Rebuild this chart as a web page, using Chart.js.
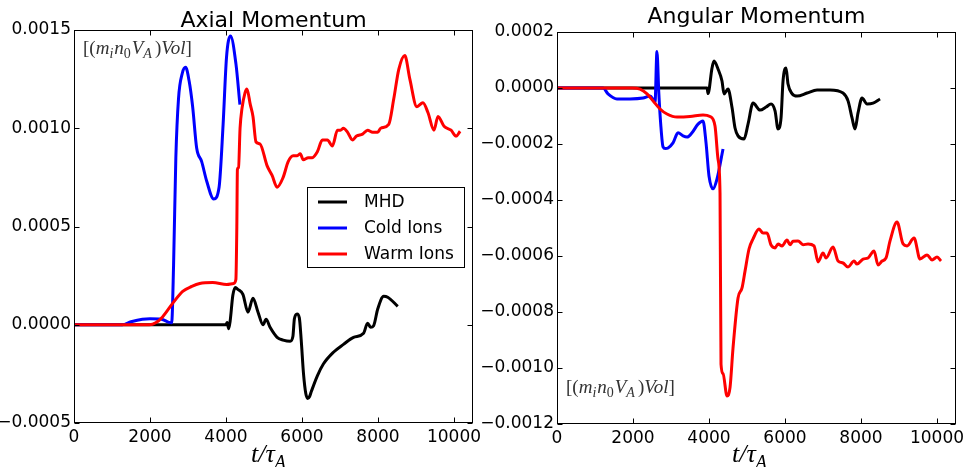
<!DOCTYPE html>
<html>
  <head>
    <meta charset="utf-8">
    <title>Axial and Angular Momentum</title>
    <script src="https://cdn.jsdelivr.net/npm/chart.js"></script>
    <style>
      html, body {
        margin: 0;
        padding: 0;
        background: #fff;
      }
      #wrap {
        position: relative;
        width: 967px;
        height: 467px;
        overflow: hidden;
      }
      canvas {
        position: absolute;
        top: 0;
      }
      #axial { left: 0; }
      #angular { left: 480px; }
    </style>
  </head>
  <body>
    <div id="wrap">
      <canvas id="axial" width="480" height="467"></canvas>
      <canvas id="angular" width="487" height="467"></canvas>
    </div>

    <script>
      const seriesLabels = ["MHD", "Cold Ions", "Warm Ions"];
      const seriesColors = ["#000000", "#0000ff", "#ff0000"];

      const timeTicks = [0, 2000, 4000, 6000, 8000, 10000];
      const axialTicks = [-0.0005, 0, 0.0005, 0.001, 0.0015];
      const angularTicks = [-0.0012, -0.001, -0.0008, -0.0006, -0.0004, -0.0002, 0, 0.0002];

      // --- axial momentum ---
      const axialMhdTime = [0, 4000, 4030, 4070, 4110, 4180, 4250, 4313, 4445, 4578, 4710, 4843, 4975, 5054, 5160, 5345, 5504, 5689, 5760, 5800, 5870, 5930, 5980, 6040, 6100, 6150, 6200, 6245, 6404, 6562, 6827, 7091, 7356, 7620, 7726, 7806, 7885, 7991, 8150, 8256, 8520];
      const axialMhd = [0, 0, 0.000012, -0.00002, 0.00002, 0.00015, 0.00019, 0.00018, 0.000155, 0.000064, 0.000135, 0.000064, 0, 0.000028, -0.000013, -0.000064, -0.000078, -0.000084, -0.00006, 0.00003, 0.000055, 0.000035, -0.00008, -0.00025, -0.00035, -0.000375, -0.000365, -0.00034, -0.00026, -0.0002, -0.00014, -0.0001, -0.000064, -0.000043, 0.000008, -0.000013, -0.000005, 0.000079, 0.000145, 0.00014, 0.000094];

      const axialColdTime = [0, 1270, 1500, 1800, 2000, 2300, 2500, 2570, 2620, 2680, 2750, 2850, 2937, 3030, 3122, 3228, 3360, 3493, 3678, 3818, 3924, 4013, 4119, 4260, 4366];
      const axialCold = [0, 0, 0.000015, 0.000028, 0.00003, 0.000028, 0.000012, 0.00001, 0.0003, 0.00085, 0.00115, 0.00128, 0.00131, 0.00124, 0.00111, 0.0009, 0.00083, 0.00073, 0.00064, 0.0007, 0.00102, 0.00136, 0.00147, 0.00133, 0.00112];

      const axialWarmTime = [0, 1985, 2150, 2330, 2600, 2860, 3100, 3308, 3650, 4020, 4200, 4260, 4285, 4300, 4330, 4370, 4420, 4500, 4551, 4640, 4710, 4790, 4895, 5080, 5213, 5345, 5504, 5636, 5768, 5874, 5954, 6033, 6165, 6271, 6404, 6536, 6668, 6800, 6933, 7012, 7091, 7197, 7330, 7435, 7594, 7726, 7859, 7991, 8071, 8283, 8415, 8547, 8705, 8838, 9023, 9182, 9314, 9473, 9579, 9738, 9923, 10055, 10161];
      const axialWarm = [0, 0, 0.00001, 0.00004, 0.00011, 0.00017, 0.000195, 0.00021, 0.000215, 0.000205, 0.00021, 0.00023, 0.0005, 0.00079, 0.0008, 0.001, 0.0011, 0.00118, 0.0012, 0.00112, 0.00106, 0.00093, 0.00092, 0.00081, 0.00076, 0.0007, 0.00075, 0.00083, 0.00086, 0.00086, 0.00087, 0.00084, 0.00085, 0.00085, 0.00088, 0.00094, 0.00094, 0.00091, 0.00099, 0.00099, 0.001, 0.00098, 0.00094, 0.00096, 0.00097, 0.00099, 0.00098, 0.00098, 0.001, 0.00102, 0.00115, 0.0013, 0.00137, 0.00125, 0.00111, 0.00113, 0.00108, 0.00099, 0.00106, 0.00101, 0.00099, 0.00096, 0.000985];

      // --- angular momentum ---
      const angularMhdTime = [0, 3950, 3974, 4079, 4132, 4237, 4342, 4395, 4500, 4606, 4685, 4764, 4922, 5027, 5159, 5343, 5501, 5633, 5738, 5817, 5896, 5948, 6027, 6080, 6185, 6317, 6580, 6843, 7185, 7527, 7659, 7764, 7843, 7922, 8027, 8159, 8317, 8501];
      const angularMhd = [0, 0, -0.00002, 0.000071, 0.000096, 0.000068, 0.000025, -0.000021, -0.000004, -0.00007, -0.000143, -0.000171, -0.000182, -0.000129, -0.000054, -0.000079, -0.000068, -0.000057, -0.000082, -0.000146, -0.000107, 0.000025, 0.000071, 0.000014, -0.00002, -0.000029, -0.000018, -0.000007, -0.000007, -0.000018, -0.000046, -0.000107, -0.000146, -0.000089, -0.000036, -0.000057, -0.000054, -0.000039];

      const angularColdTime = [0, 1211, 1342, 1579, 1921, 2264, 2448, 2553, 2580, 2630, 2680, 2730, 2790, 2850, 2922, 3053, 3185, 3316, 3422, 3553, 3711, 3843, 3922, 4000, 4106, 4211, 4369];
      const angularCold = [0, 0, -0.000021, -0.000039, -0.000039, -0.000036, -0.000029, -0.000046, -0.00005, 0.00013, -0.00002, -0.00013, -0.00021, -0.000216, -0.000214, -0.000196, -0.00016, -0.000171, -0.000175, -0.00016, -0.000129, -0.000118, -0.000196, -0.000314, -0.00036, -0.000325, -0.000218];

      const angularWarmTime = [0, 1974, 2185, 2369, 2527, 2711, 2895, 3158, 3500, 3843, 4027, 4158, 4237, 4290, 4316, 4369, 4474, 4553, 4632, 4764, 4869, 4948, 5053, 5159, 5317, 5422, 5527, 5633, 5738, 5817, 5922, 6053, 6132, 6211, 6343, 6475, 6606, 6764, 6869, 7001, 7080, 7264, 7396, 7527, 7659, 7817, 7896, 8054, 8185, 8343, 8449, 8554, 8659, 8764, 8949, 9107, 9212, 9396, 9554, 9738, 9870, 10001, 10106];
      const angularWarm = [0, 0, -0.000004, -0.000021, -0.000046, -0.000075, -0.000093, -0.000104, -0.000102, -0.000096, -0.000102, -0.000136, -0.000254, -0.000375, -0.000986, -0.00102, -0.0011, -0.00107, -0.000929, -0.00075, -0.000714, -0.000654, -0.000575, -0.000539, -0.000504, -0.000518, -0.000518, -0.000561, -0.000571, -0.000557, -0.000564, -0.000543, -0.00056, -0.000547, -0.000546, -0.00056, -0.000557, -0.000564, -0.000621, -0.000589, -0.000607, -0.000568, -0.000618, -0.000625, -0.000639, -0.000618, -0.000629, -0.000611, -0.000607, -0.000582, -0.000632, -0.000618, -0.000607, -0.000546, -0.000479, -0.000557, -0.000564, -0.000536, -0.000611, -0.000596, -0.000614, -0.000604, -0.000618];

      function points(times, values) {
        return times.map((t, i) => ({ x: t, y: values[i] }));
      }

      function tickText(v) {
        if (Math.abs(v) < 1e-12) v = 0;
        return v.toFixed(4).replace("-", "\u2212");
      }

      // draws a run of text pieces (for sub/superscripts) from x along a baseline
      function drawRich(ctx, x, y, pieces, color) {
        ctx.save();
        ctx.fillStyle = color;
        ctx.textAlign = "left";
        ctx.textBaseline = "alphabetic";
        pieces.forEach((p) => {
          ctx.font = p.font;
          ctx.fillText(p.text, x, y + (p.dy || 0));
          x += ctx.measureText(p.text).width + (p.gap || 0);
        });
        ctx.restore();
      }

      const serif = '"Liberation Serif", "DejaVu Serif", serif';
      const unitPieces = [
        { text: "[(", font: "19px " + serif },
        { text: "m", font: "italic 19px " + serif },
        { text: "i", font: "italic 14px " + serif, dy: 4, gap: 1 },
        { text: "n", font: "italic 19px " + serif },
        { text: "0", font: "14px " + serif, dy: 4, gap: 1 },
        { text: "V", font: "italic 19px " + serif },
        { text: "A", font: "italic 14px " + serif, dy: 4, gap: 3 },
        { text: ")", font: "19px " + serif },
        { text: "Vol", font: "italic 19px " + serif },
        { text: "]", font: "19px " + serif },
      ];
      const timePieces = [
        { text: "t/\u03c4", font: "italic 26px " + serif },
        { text: "A", font: "italic 18px " + serif, dy: 6 },
      ];

      // box round the plot with inward tick marks on all four sides
      const framePlugin = {
        id: "frame",
        afterDatasetsDraw(chart) {
          const { ctx, chartArea: a, scales } = chart;
          const L = Math.round(a.left) + 0.5, R = Math.round(a.right) - 0.5;
          const T = Math.round(a.top) + 0.5, B = Math.round(a.bottom) - 0.5;
          ctx.save();
          ctx.strokeStyle = "#000";
          ctx.lineWidth = 1;
          ctx.strokeRect(L, T, R - L, B - T);
          ctx.beginPath();
          scales.x.ticks.forEach((t) => {
            const px = Math.round(scales.x.getPixelForValue(t.value)) + 0.5;
            ctx.moveTo(px, B); ctx.lineTo(px, B - 5);
            ctx.moveTo(px, T); ctx.lineTo(px, T + 5);
          });
          scales.y.ticks.forEach((t) => {
            const py = Math.round(scales.y.getPixelForValue(t.value)) + 0.5;
            ctx.moveTo(L, py); ctx.lineTo(L + 5, py);
            ctx.moveTo(R, py); ctx.lineTo(R - 5, py);
          });
          ctx.stroke();
          ctx.restore();
        },
      };

      const textPlugin = {
        id: "panelText",
        afterDraw(chart) {
          const o = chart.options.plugins.panelText;
          const { ctx, chartArea: a } = chart;
          ctx.save();
          ctx.fillStyle = "#000";
          ctx.font = '22px "DejaVu Sans"';
          ctx.textAlign = "center";
          ctx.textBaseline = "alphabetic";
          ctx.fillText(o.title, (a.left + a.right) / 2, o.titleY);
          ctx.restore();

          drawRich(ctx, o.timeX, 462, timePieces, "#000");
          drawRich(ctx, o.unitX, o.unitY, unitPieces, "#333");

          if (o.legend) {
            const lg = o.legend;
            ctx.save();
            ctx.fillStyle = "#fff";
            ctx.fillRect(lg.x, lg.y, lg.w, lg.h);
            ctx.strokeStyle = "#000";
            ctx.lineWidth = 1;
            ctx.strokeRect(lg.x + 0.5, lg.y + 0.5, lg.w, lg.h);
            ctx.font = '17px "DejaVu Sans"';
            ctx.textAlign = "left";
            ctx.textBaseline = "middle";
            chart.data.datasets.forEach((ds, i) => {
              const y = lg.y + 15 + i * 26;
              ctx.strokeStyle = ds.borderColor;
              ctx.lineWidth = 3;
              ctx.beginPath();
              ctx.moveTo(lg.x + 11, y);
              ctx.lineTo(lg.x + 40, y);
              ctx.stroke();
              ctx.fillStyle = "#000";
              ctx.fillText(ds.label, lg.x + 57, y + 1);
            });
            ctx.restore();
          }
        },
      };

      function momentumChart(id, cfg) {
        return new Chart(document.getElementById(id), {
          type: "line",
          data: {
            datasets: cfg.series.map((s, i) => ({
              label: seriesLabels[i],
              data: points(s[0], s[1]),
              borderColor: seriesColors[i],
              backgroundColor: seriesColors[i],
              borderWidth: 3,
              pointRadius: 0,
              fill: false,
              cubicInterpolationMode: "monotone",
              order: 3 - i,
            })),
          },
          options: {
            responsive: false,
            animation: false,
            devicePixelRatio: 1,
            events: [],
            layout: { padding: cfg.padding },
            plugins: {
              legend: { display: false },
              tooltip: { enabled: false },
              panelText: cfg.text,
            },
            scales: {
              x: {
                type: "linear",
                min: 0,
                max: 10500,
                grid: { display: false, drawTicks: false },
                border: { display: false },
                ticks: {
                  color: "#000",
                  font: { family: "DejaVu Sans", size: 17 },
                  padding: 4,
                  maxRotation: 0,
                  autoSkip: false,
                  callback: (v) => String(v),
                },
                afterBuildTicks: (s) => {
                  s.ticks = timeTicks.map((v) => ({ value: v }));
                },
                afterFit: (s) => {
                  s.height = cfg.xHeight;
                  s.paddingLeft = 0;
                  s.paddingRight = 0;
                },
              },
              y: {
                type: "linear",
                min: cfg.yTicks[0],
                max: cfg.yTicks[cfg.yTicks.length - 1],
                grid: { display: false, drawTicks: false },
                border: { display: false },
                ticks: {
                  color: "#000",
                  font: { family: "DejaVu Sans", size: 17 },
                  padding: cfg.yPad,
                  autoSkip: false,
                  callback: (v) => tickText(v),
                },
                afterBuildTicks: (s) => {
                  s.ticks = cfg.yTicks.map((v) => ({ value: v }));
                },
                afterFit: (s) => {
                  s.width = cfg.yWidth;
                  s.paddingTop = 0;
                  s.paddingBottom = 0;
                },
              },
            },
          },
          plugins: [framePlugin, textPlugin],
        });
      }

      momentumChart("axial", {
        series: [
          [axialMhdTime, axialMhd],
          [axialColdTime, axialCold],
          [axialWarmTime, axialWarm],
        ],
        yTicks: axialTicks,
        padding: { top: 30, right: 7, bottom: 0, left: 0 },
        yWidth: 74,
        xHeight: 44,
        yPad: 3,
        text: {
          title: "Axial Momentum",
          titleY: 27,
          timeX: 251,
          unitX: 83,
          unitY: 54,
          legend: { x: 307, y: 187, w: 157, h: 80 },
        },
      });

      momentumChart("angular", {
        series: [
          [angularMhdTime, angularMhd],
          [angularColdTime, angularCold],
          [angularWarmTime, angularWarm],
        ],
        yTicks: angularTicks,
        padding: { top: 32, right: 11, bottom: 0, left: 0 },
        yWidth: 77,
        xHeight: 43,
        yPad: 3,
        text: {
          title: "Angular Momentum",
          titleY: 23,
          timeX: 252,
          unitX: 86,
          unitY: 393,
          legend: null,
        },
      });
    </script>
  </body>
</html>
